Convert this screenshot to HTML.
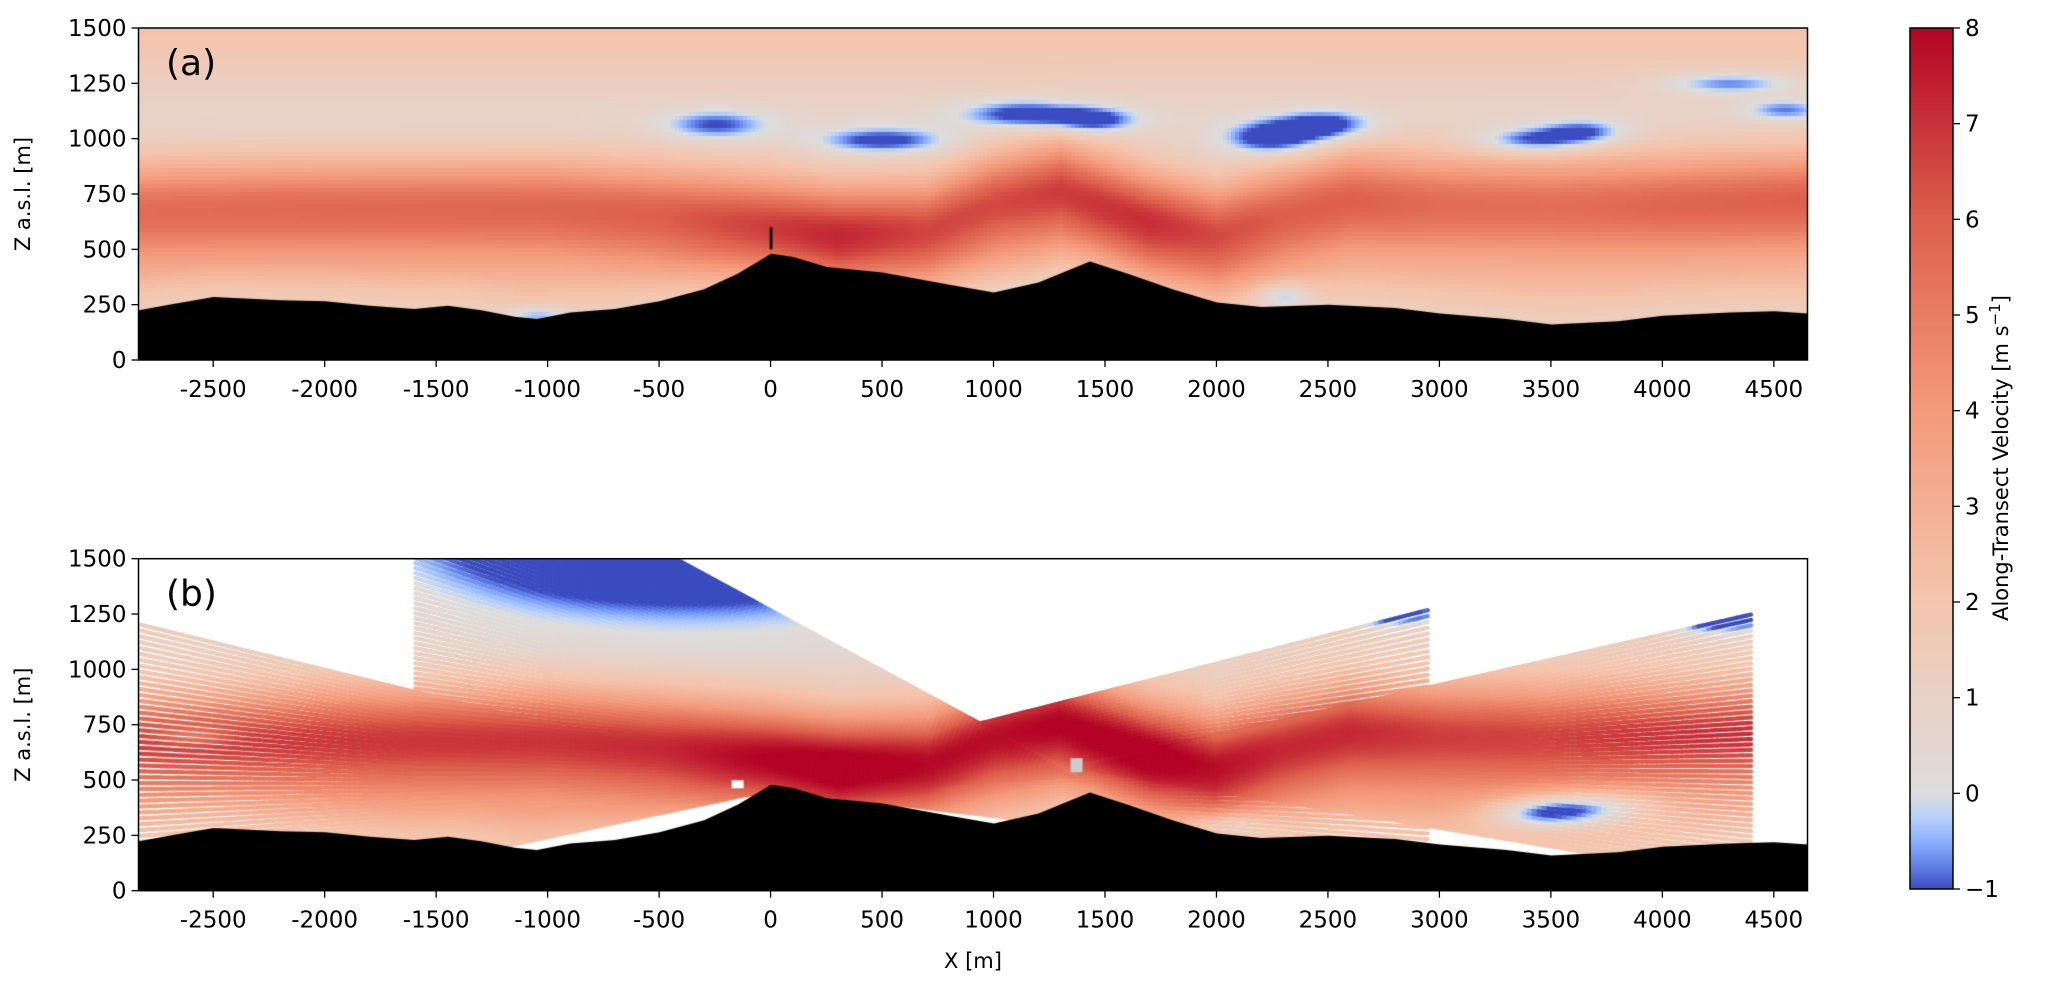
<!DOCTYPE html>
<html><head><meta charset="utf-8"><style>
html,body{margin:0;padding:0;background:#fff;width:2067px;height:987px;overflow:hidden}
#wrap{position:relative;width:2067px;height:987px}
canvas{position:absolute}
svg{position:absolute;left:0;top:0}
text{font-family:"DejaVu Sans","Liberation Sans",sans-serif;fill:#000}
</style></head><body><div id="wrap">
<canvas id="ca" width="1669" height="332" style="left:138.5px;top:28px"></canvas>
<canvas id="cb" width="1669" height="332" style="left:138.5px;top:558.7px"></canvas>
<canvas id="cc" width="43" height="861" style="left:1910px;top:28px"></canvas>
<svg id="ov" width="2067" height="987"></svg>
</div>
<script>
// ---- data ----
const xMin=-2835, xMax=4651, zMax=1500, vMin=-1, vMax=8;
const xTicks=[-2500,-2000,-1500,-1000,-500,0,500,1000,1500,2000,2500,3000,3500,4000,4500];
const zTicks=[0,250,500,750,1000,1250,1500];
const cTicks=[-1,0,1,2,3,4,5,6,7,8];
const terrainX=[-2835,-2700,-2500,-2200,-2000,-1800,-1600,-1450,-1300,-1150,-1050,-900,-700,-500,-300,-150,-50,0,100,250,500,800,1000,1200,1430,1600,1800,2000,2200,2500,2800,3000,3300,3500,3800,4000,4300,4500,4651];
const terrainZ=[225,250,285,270,265,245,230,245,225,195,185,215,230,265,320,390,450,480,465,420,395,340,305,350,445,390,320,260,240,250,235,210,185,160,175,200,215,220,210];
const jetX=[-2835,-2000,-1000,-500,0,300,700,1000,1300,1700,2000,2300,2600,3000,3500,4000,4651];
const jetZ=[670,680,680,650,600,560,580,700,760,620,560,650,720,700,690,700,720];
const jetV=[5.6,5.7,5.8,6.0,6.8,7.3,6.6,6.5,6.8,7.1,6.5,6.0,6.0,5.6,5.5,5.8,6.0];
const blobX=[-250,500,1150,1450,2250,2500,3400,3650,4300,4550,2300,1250,-1050];
const blobZ=[1060,990,1110,1080,1000,1060,990,1030,1250,1130,290,300,200];
const blobW=[250,300,300,200,220,220,250,200,300,200,120,250,150];
const blobH=[70,60,70,60,80,70,60,60,50,50,60,40,40];
const blobA=[1.9,2.2,2.4,2.0,2.6,2.4,2.3,2.0,2.0,1.8,2.0,1.8,1.8];
const blobBX=[-400,2750,4250,3700,3450,-2600,2050];
const blobBZ=[1650,1260,1230,380,350,700,300];
const blobBW=[1500,300,250,300,250,150,200];
const blobBH=[380,60,60,80,70,40,60];
const blobBA=[7,4,4,3,3,1.5,2];
const fanOX=[100,-150,1370,1370];
const fanOZ=[480,480,520,560];
const fanEX=[-2835,2950,-1600,4400];
const fanZ0=[-150,100,350,50];
const fanZ1=[1205,1270,2140,1250];
const fanN=[52,45,80,50];

// ---- helpers ----
const W=1669,H=332;
const xs=x=>(x-xMin)/(xMax-xMin)*W;
const zs=z=>H-z/zMax*H;
function interp(X,Y,x){if(x<=X[0])return Y[0];for(let i=1;i<X.length;i++){if(x<=X[i]){const t=(x-X[i-1])/(X[i]-X[i-1]);return Y[i-1]+t*(Y[i]-Y[i-1]);}}return Y[Y.length-1];}
const stops=[[0,[59,76,192]],[.125,[98,130,234]],[.25,[141,176,254]],[.375,[184,208,249]],[.5,[221,221,221]],[.625,[244,197,173]],[.75,[244,154,123]],[.875,[221,96,76]],[1,[180,4,38]]];
function cmap(v){let t=v<0?(v-vMin)/(0-vMin)*0.5:0.5+Math.min(v,vMax)/vMax*0.5;t=Math.max(0,Math.min(1,t));
for(let i=1;i<stops.length;i++){if(t<=stops[i][0]){const a=stops[i-1],b=stops[i],u=(t-a[0])/(b[0]-a[0]);return 'rgb('+a[1].map((c,j)=>Math.round(c+u*(b[1][j]-c))).join(',')+')';}}return 'rgb(180,4,38)';}
function base(x,z){const zc=interp(jetX,jetZ,x),V=interp(jetX,jetV,x);const tz=interp(terrainX,terrainZ,x);let bg,w;
if(z>zc){w=230;bg=z<1100?0.7:0.7+(z-1100)/400*1.5;}else{w=240;bg=2.2-Math.max(0,tz+170-z)/170*1.0;}
const d=(z-zc)/w;return bg+(V-bg)*Math.exp(-d*d);}
function field(x,z){let v=base(x,z);
for(let i=0;i<blobX.length;i++){const dx=(x-blobX[i])/blobW[i],dz=(z-blobZ[i])/blobH[i];v-=blobA[i]*Math.exp(-(dx*dx+dz*dz));}
return Math.max(-1,v);}
function fieldB(x,z){let v=base(x,z)*1.15+0.3;for(let i=0;i<blobBX.length;i++){const dx=(x-blobBX[i])/blobBW[i],dz=(z-blobBZ[i])/blobBH[i];v-=blobBA[i]*Math.exp(-(dx*dx+dz*dz));}return Math.max(-1,Math.min(8,v));}
function terrain(ctx){ctx.fillStyle='#000';ctx.beginPath();ctx.moveTo(xs(terrainX[0]),H);for(let i=0;i<terrainX.length;i++)ctx.lineTo(xs(terrainX[i]),zs(terrainZ[i]));ctx.lineTo(xs(terrainX[terrainX.length-1]),H);ctx.closePath();ctx.fill();}

// panel a
const ca=document.getElementById('ca').getContext('2d');
const cs=4;
for(let px=0;px<W;px+=cs){for(let py=0;py<H;py+=cs){const x=xMin+(px+cs/2)/W*(xMax-xMin),z=(H-py-cs/2)/H*zMax;ca.fillStyle=cmap(field(x,z));ca.fillRect(px,py,cs,cs);}}
terrain(ca);
ca.fillStyle='#111';ca.fillRect(xs(0)-1.5,zs(600),3,zs(500)-zs(600));

// panel b
const cb=document.getElementById('cb').getContext('2d');
cb.fillStyle='#fff';cb.fillRect(0,0,W,H);
cb.lineWidth=4.2;cb.lineCap='round';
for(let f=0;f<fanOX.length;f++){for(let j=0;j<fanN[f];j++){const ez=fanZ0[f]+(fanZ1[f]-fanZ0[f])*j/(fanN[f]-1);
const x0=xs(fanOX[f]),y0=zs(fanOZ[f]),x1=xs(fanEX[f]),y1=zs(ez);const len=Math.hypot(x1-x0,y1-y0),n=Math.ceil(len/5);
for(let s=0;s<n;s++){const t0=s/n,t1=(s+0.8)/n;const mx=(t0+t1)/2;const X=fanOX[f]+(fanEX[f]-fanOX[f])*mx,Z=fanOZ[f]+(ez-fanOZ[f])*mx;
cb.strokeStyle=cmap(fieldB(X,Z));cb.beginPath();cb.moveTo(x0+(x1-x0)*t0,y0+(y1-y0)*t0);cb.lineTo(x0+(x1-x0)*t1,y0+(y1-y0)*t1);cb.stroke();}}}
terrain(cb);
cb.fillStyle='#fff';cb.fillRect(xs(-150)-6,zs(500),12,8);
cb.fillStyle='#ccc';cb.fillRect(xs(1370)-6,zs(600),12,14);

// colorbar
const cc=document.getElementById('cc').getContext('2d');
for(let py=0;py<861;py++){const v=vMax-(py+0.5)/861*(vMax-vMin);cc.fillStyle=cmap(v);cc.fillRect(0,py,43,1);}

// overlay
const NS='http://www.w3.org/2000/svg',ov=document.getElementById('ov');
function el(tag,attrs,txt){const e=document.createElementNS(NS,tag);for(const k in attrs)e.setAttribute(k,attrs[k]);if(txt!==undefined)e.textContent=txt;ov.appendChild(e);return e;}
const L=138.5;
[[28,'a'],[558.7,'b']].forEach(([T,p])=>{
 const fr=el('rect',{x:L,y:T,width:W,height:H,fill:'none',stroke:'#000','stroke-width':1.5});
 
 xTicks.forEach(v=>{const x=L+xs(v);const t=el('line',{x1:x,x2:x,y1:T+H,y2:T+H+7,stroke:'#000','stroke-width':1.3});
  const lb=el('text',{x:x,y:T+H+37,'font-size':23,'text-anchor':'middle'},String(v));});
 zTicks.forEach(v=>{const y=T+zs(v);const t=el('line',{x1:L-7,x2:L,y1:y,y2:y,stroke:'#000','stroke-width':1.3});
  const lb=el('text',{x:L-12,y:y+8,'font-size':23,'text-anchor':'end'},String(v));});
 const yl=el('text',{x:0,y:0,'font-size':21,'text-anchor':'middle',transform:'translate(30,'+(T+H/2)+') rotate(-90)'},'Z a.s.l. [m]');
 
 const pl=el('text',{x:166,y:T+47,'font-size':36},'('+p+')');
});
const xl=el('text',{x:L+W/2,y:968,'font-size':21,'text-anchor':'middle'},'X [m]');

const cf=el('rect',{x:1910,y:28,width:43,height:861,fill:'none',stroke:'#000','stroke-width':1.5});

cTicks.forEach(v=>{const y=28+(vMax-v)/(vMax-vMin)*861;const t=el('line',{x1:1953,x2:1960,y1:y,y2:y,stroke:'#000','stroke-width':1.3});
 const lb=el('text',{x:1965,y:y+8,'font-size':23},v<0?'\u2212'+(-v):String(v));});
const cl=el('text',{x:0,y:0,'font-size':21,'text-anchor':'middle',transform:'translate(2008,458) rotate(-90)'});

cl.innerHTML='Along-Transect Velocity [m s<tspan dy="-8" font-size="15">\u22121</tspan><tspan dy="8">]</tspan>';
</script></body></html>
